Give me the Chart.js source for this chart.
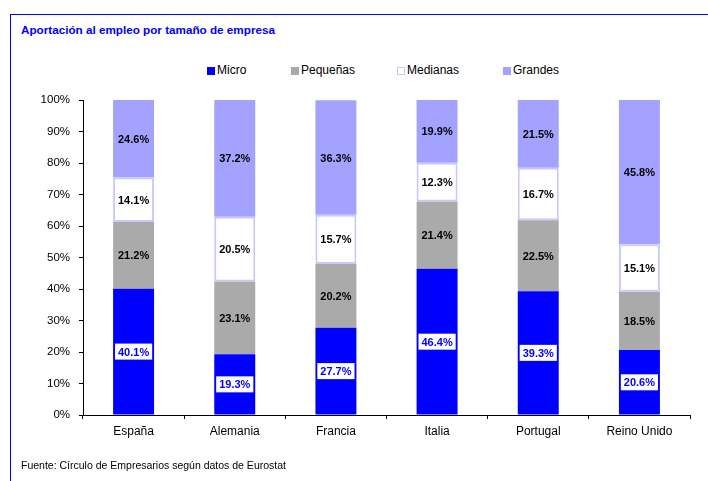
<!DOCTYPE html>
<html lang="es">
<head>
<meta charset="UTF-8">
<title>Aportación al empleo por tamaño de empresa</title>
<script src="https://cdn.jsdelivr.net/npm/chart.js"></script>
<style>
  html, body { margin: 0; padding: 0; background: #fff; overflow: hidden; }
  body { width: 708px; height: 481px; position: relative;
         font-family: 'Liberation Sans', Arial, sans-serif; }
  .marco { position: absolute; left: 10px; top: 14px; width: 800px; height: 600px;
           border-left: 1px solid #0000ff; border-top: 1px solid #0000ff; }
  .titulo { position: absolute; left: 21px; top: 23px; font-size: 11.7px; font-weight: bold;
            color: #0000ff; white-space: nowrap; }
  .fuente { position: absolute; left: 21px; top: 459px; font-size: 10.5px; color: #000; white-space: nowrap; }
  .leyenda span.item { position: absolute; top: 63px; font-size: 12px; color: #000; white-space: nowrap; }
  .leyenda i { position: absolute; top: 67px; width: 8px; height: 8px; box-sizing: border-box; }
  .grafico { position: absolute; left: 0; top: 0; width: 708px; height: 481px; }
</style>
</head>
<body>
<div class="marco"></div>
<div class="titulo">Aportación al empleo por tamaño de empresa</div>
<div class="leyenda" id="leyenda"></div>
<div class="grafico"><canvas id="myChart1" width="708" height="481"></canvas></div>
<div class="fuente">Fuente: Círculo de Empresarios según datos de Eurostat</div>

<script>
// datos (% del empleo)
const paises = ['España', 'Alemania', 'Francia', 'Italia', 'Portugal', 'Reino Unido'];
const micro = [40.1, 19.3, 27.7, 46.4, 39.3, 20.6];
const pequenas = [21.2, 23.1, 20.2, 21.4, 22.5, 18.5];
const medianas = [14.1, 20.5, 15.7, 12.3, 16.7, 15.1];
const grandes = [24.6, 37.2, 36.3, 19.9, 21.5, 45.8];
const ticksY = [0, 10, 20, 30, 40, 50, 60, 70, 80, 90, 100];

const fuente = "'Liberation Sans', Arial, sans-serif";

// leyenda en html
const leyenda = [
    { texto: 'Micro', fondo: '#0000ff', borde: '#0000ff', x: 207 },
    { texto: 'Pequeñas', fondo: '#aaaaaa', borde: '#aaaaaa', x: 291 },
    { texto: 'Medianas', fondo: '#ffffff', borde: '#c8c8ff', x: 397 },
    { texto: 'Grandes', fondo: '#a3a3ff', borde: '#a3a3ff', x: 503 }
];
let html = '';
leyenda.forEach(l => {
    html += `<i style="left:${l.x}px;background:${l.fondo};border:1.5px solid ${l.borde}"></i>`;
    html += `<span class="item" style="left:${l.x + 10}px">${l.texto}</span>`;
});
document.getElementById('leyenda').innerHTML = html;

// etiquetas dentro de las barras
const etiquetas = {
    id: 'etiquetas',
    afterDatasetsDraw(chart) {
        const ctx = chart.ctx;
        ctx.save();
        ctx.font = 'bold 11px ' + fuente;
        ctx.textAlign = 'center';
        ctx.textBaseline = 'middle';
        chart.data.datasets.forEach((ds, i) => {
            const meta = chart.getDatasetMeta(i);
            meta.data.forEach((bar, j) => {
                const y = (bar.y + bar.base) / 2;
                const txt = ds.data[j].toFixed(1) + '%';
                if (i === 0) {
                    const w = ctx.measureText(txt).width + 6;
                    ctx.fillStyle = '#ffffff';
                    ctx.fillRect(bar.x - w / 2, y - 8, w, 16);
                    ctx.fillStyle = '#0000ff';
                } else {
                    ctx.fillStyle = '#000000';
                }
                ctx.fillText(txt, bar.x, y + 1);
            });
        });
        ctx.restore();
    }
};

const ctx1 = document.getElementById('myChart1');
new Chart(ctx1, {
    type: 'bar',
    data: {
        labels: paises,
        datasets: [
            { label: 'Micro', data: micro, backgroundColor: '#0000ff', borderWidth: 0 },
            { label: 'Pequeñas', data: pequenas, backgroundColor: '#aaaaaa', borderWidth: 0 },
            { label: 'Medianas', data: medianas, backgroundColor: '#ffffff', borderColor: '#c8c8ff', borderWidth: 2, borderSkipped: false },
            { label: 'Grandes', data: grandes, backgroundColor: '#a3a3ff', borderWidth: 0 }
        ]
    },
    options: {
        responsive: false,
        animation: false,
        layout: { padding: { left: 0, right: 18, top: 100, bottom: 0 } },
        datasets: { bar: { categoryPercentage: 1, barPercentage: 0.405 } },
        plugins: {
            legend: { display: false },
            tooltip: { enabled: false }
        },
        scales: {
            x: {
                stacked: true,
                afterFit: s => { s.height = 66; },
                border: { color: '#000', width: 1 },
                grid: { drawOnChartArea: false, color: '#000', tickLength: 4, offset: true },
                ticks: { color: '#000', font: { family: fuente, size: 12 }, padding: 5, maxRotation: 0 }
            },
            y: {
                stacked: true,
                min: 0,
                max: 100,
                afterFit: s => { s.width = 83; },
                afterBuildTicks: s => { s.ticks = ticksY.map(v => ({ value: v })); },
                border: { color: '#000', width: 1 },
                grid: { drawOnChartArea: false, color: '#000', tickLength: 4 },
                ticks: { color: '#000', font: { family: fuente, size: 11.5 }, padding: 9,
                         callback: v => v + '%' }
            }
        }
    },
    plugins: [etiquetas]
});
</script>
</body>
</html>
